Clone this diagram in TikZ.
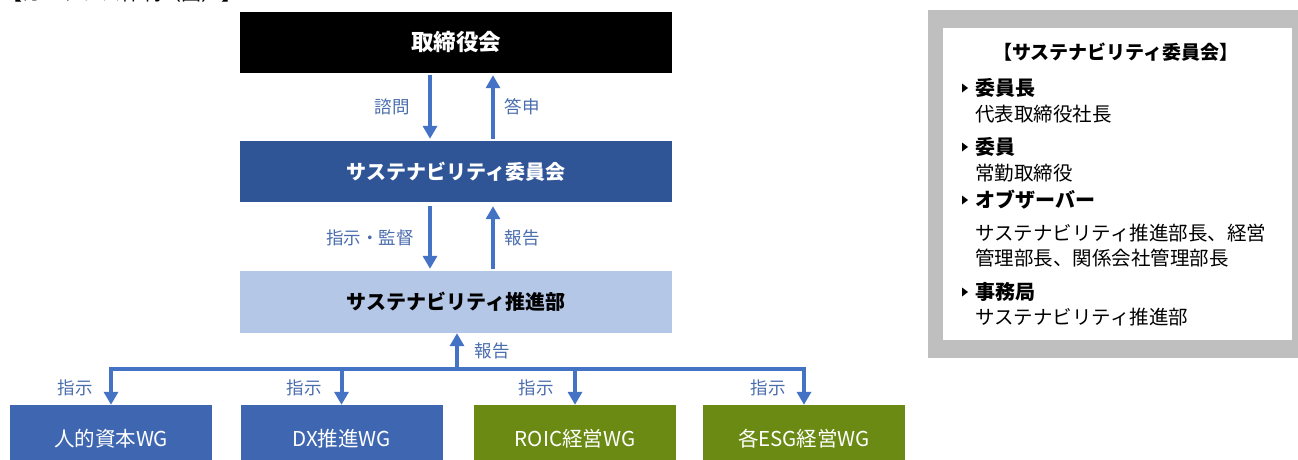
\documentclass[tikz,border=0pt]{standalone}
\usepackage{fontspec}
\setmainfont{Noto Sans CJK JP}
\usetikzlibrary{arrows.meta,calc}
\definecolor{arrblue}{HTML}{4472C4}
\definecolor{comblue}{HTML}{2F5597}
\definecolor{lightblue}{HTML}{B4C7E7}
\definecolor{wgblue}{HTML}{3F67B1}
\definecolor{wggreen}{HTML}{6B8A13}
\definecolor{labblue}{HTML}{4A6DAE}
\definecolor{panelgrey}{HTML}{BFBFBF}
\begin{document}
\begin{tikzpicture}[x=1pt,y=-1pt,
  box/.style={minimum width=432pt, inner sep=0pt, font=\fontsize{20}{23}\selectfont\bfseries},
  wgbox/.style={minimum width=202pt, minimum height=68pt, inner sep=0pt, text=white, font=\fontsize{20.5}{23}\selectfont},
  arr/.style={draw=arrblue, line width=4pt, -{Triangle[width=14pt,length=13pt]}},
  lab/.style={text=labblue, font=\fontsize{17.5}{20}\selectfont, inner sep=0pt},
  phead/.style={anchor=west, inner sep=0pt, font=\fontsize{20}{23}\selectfont\bfseries},
  ptext/.style={anchor=west, inner sep=0pt, font=\fontsize{19.5}{22}\selectfont},
  bullet/.style={fill=black}]
\clip (0,0) rectangle (1298,459);
\fill[white] (0,0) rectangle (1298,459);

% cut-off heading
\node[anchor=base west, inner sep=0pt, font=\fontsize{20}{22}\selectfont] (heading) at (2,0.5) {【ガバナンス体制（図）】};

% main boxes
\node[box, fill=black, text=white, minimum height=61pt, font=\fontsize{22.5}{25}\selectfont\bfseries] (board) at (456,42.5) {取締役会};
\node[box, fill=comblue, text=white, minimum height=61pt] (com) at (456,171.5) {サステナビリティ委員会};
\node[box, fill=lightblue, text=black, minimum height=62pt] (prom) at (456,302) {サステナビリティ推進部};

% working groups
\node[wgbox, fill=wgblue] (wg1) at (111,439) {人的資本WG};
\node[wgbox, fill=wgblue] (wg2) at (341.5,439) {DX推進WG};
\node[wgbox, fill=wggreen] (wg3) at (575,439) {ROIC経営WG};
\node[wgbox, fill=wggreen] (wg4) at (804,439) {各ESG経営WG};

% arrows board <-> committee
\draw[arr] ($(board.south)+(-26,2)$) -- ($(com.north)+(-26,-2)$);
\draw[arr] ($(com.north)+(37,-2)$) -- ($(board.south)+(37,2)$);
\node[lab] (l1) at (392,107) {諮問};
\node[lab] (l2) at (522,107) {答申};

% arrows committee <-> promotion
\draw[arr] ($(com.south)+(-26,4)$) -- ($(prom.north)+(-26,-2)$);
\draw[arr] ($(prom.north)+(37,-2)$) -- ($(com.south)+(37,4)$);
\node[lab] (l3) at (370,238) {指示・監督};
\node[lab] (l4) at (522,238) {報告};

% tree to WGs
\coordinate (hub) at (457,369);
\draw[arr] (hub) -- (hub |- prom.south);
\draw[arr] (hub) -| (wg1.north);
\draw[arr] (hub) -| (wg2.north);
\draw[arr] (hub) -| (wg3.north);
\draw[arr] (hub) -| (wg4.north);
\node[lab] (l5) at (492,351) {報告};
\node[lab] (l6) at (75,388) {指示};
\node[lab] (l7) at (304,388) {指示};
\node[lab] (l8) at (536,388) {指示};
\node[lab] (l9) at (768,388) {指示};

% right panel
\node[fill=panelgrey, minimum width=370pt, minimum height=348pt, inner sep=0pt] (panel) at (1113,184) {};
\node[fill=white, minimum width=349pt, minimum height=312pt, inner sep=0pt] (inner) at (1117.5,184) {};
\node[inner sep=0pt, font=\fontsize{19}{22}\selectfont\bfseries] (ptitle) at (1116,52) {【サステナビリティ委員会】};

\foreach \yy in {88,147,200,292}{
  \fill[bullet] (962,\yy-4.5) -- (968,\yy) -- (962,\yy+4.5) -- cycle;
}
\node[phead] (h1) at (975,88) {委員長};
\node[ptext] (t1) at (975,114) {代表取締役社長};
\node[phead] (h2) at (975,147) {委員};
\node[ptext] (t2) at (975,173) {常勤取締役};
\node[phead] (h3) at (975,200) {オブザーバー};
\node[ptext] (t3) at (975,233) {サステナビリティ推進部長、経営};
\node[ptext] (t4) at (975,258) {管理部長、関係会社管理部長};
\node[phead] (h4) at (975,292) {事務局};
\node[ptext] (t5) at (975,317) {サステナビリティ推進部};
\end{tikzpicture}
\end{document}
